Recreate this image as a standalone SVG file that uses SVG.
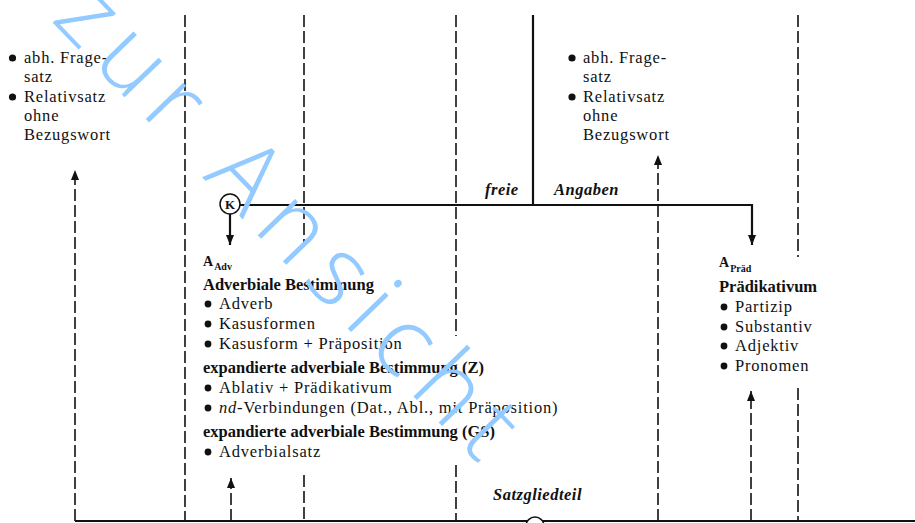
<svg xmlns="http://www.w3.org/2000/svg" width="915" height="523" viewBox="0 0 915 523">
<style>
  .t { font-family: "Liberation Serif", "Times New Roman", serif; font-size: 16.5px; letter-spacing: 0.8px; fill: #111; }
  .b { font-family: "Liberation Serif", "Times New Roman", serif; font-size: 16.5px; font-weight: bold; fill: #111; }
  .bi { font-family: "Liberation Serif", "Times New Roman", serif; font-size: 16.5px; font-weight: bold; font-style: italic; letter-spacing: 0.5px; fill: #111; }
  .a { font-family: "Liberation Serif", "Times New Roman", serif; font-size: 14px; font-weight: bold; fill: #111; }
  .sub { font-size: 10px; }
  .k { font-family: "Liberation Serif", "Times New Roman", serif; font-size: 13px; font-weight: bold; fill: #111; text-anchor: middle; }
  .bul { fill: #111; }
  .dash { fill: none; stroke: #111; stroke-width: 1.6; stroke-dasharray: 12 4; }
  .solid { fill: none; stroke: #111; stroke-width: 2.2; }
  .circ { fill: #fff; stroke: #111; stroke-width: 1.5; }
  .wm { font-family: "Open Sans", "Roboto", "DejaVu Sans", sans-serif; font-weight: 300; font-size: 98px; letter-spacing: 13px; fill: #93caff; }
</style>
<defs>
  <marker id="arr" markerUnits="userSpaceOnUse" markerWidth="10" markerHeight="8" refX="10" refY="4" orient="auto">
    <path d="M0,0 L10,4 L0,8 z" fill="#111"/>
  </marker>
</defs>

<g id="connectors">
  <path class="dash" d="M75,521 V170" marker-end="url(#arr)"/>
  <path class="dash" d="M185,15 V521"/>
  <path class="dash" d="M231,521 V478" marker-end="url(#arr)"/>
  <path class="dash" d="M304,15 V245 M304,475 V521"/>
  <path class="dash" d="M456,15 V336 M456,465 V521"/>
  <path class="solid" d="M533,15 V205"/>
  <path class="dash" d="M658,521 V155" marker-end="url(#arr)"/>
  <path class="dash" d="M751,521 V391" marker-end="url(#arr)"/>
  <path class="dash" d="M798,15 V257 M798,388 V521"/>
  <path class="solid" d="M240,205 H752 V245" marker-end="url(#arr)"/>
  <path class="solid" d="M230,214 V245" marker-end="url(#arr)"/>
  <path class="solid" d="M75,521 H915"/>
</g>

<g id="k-top">
  <circle class="circ" cx="230" cy="204" r="10"/>
  <text class="k" x="230" y="209">K</text>
</g>

<g id="k-bottom">
  <circle class="circ" cx="535" cy="526" r="9"/>
  <text class="k" x="535" y="531">K</text>
</g>

<g id="left-list">
  <circle class="bul" cx="12.5" cy="58" r="3.6"/>
  <text class="t" x="24" y="63">abh. Frage-</text>
  <text class="t" x="24" y="82">satz</text>
  <circle class="bul" cx="12.5" cy="97" r="3.6"/>
  <text class="t" x="24" y="102">Relativsatz</text>
  <text class="t" x="24" y="121">ohne</text>
  <text class="t" x="24" y="140">Bezugswort</text>
</g>

<g id="right-list">
  <circle class="bul" cx="572" cy="58" r="3.6"/>
  <text class="t" x="583" y="63">abh. Frage-</text>
  <text class="t" x="583" y="82">satz</text>
  <circle class="bul" cx="572" cy="97" r="3.6"/>
  <text class="t" x="583" y="102">Relativsatz</text>
  <text class="t" x="583" y="121">ohne</text>
  <text class="t" x="583" y="140">Bezugswort</text>
</g>

<g id="label-freie">
  <text class="bi" x="485" y="195">freie</text>
</g>
<g id="label-angaben">
  <text class="bi" x="554" y="195">Angaben</text>
</g>
<g id="label-satzgliedteil">
  <text class="bi" x="493" y="500">Satzgliedteil</text>
</g>

<g id="adverbiale">
  <text class="a" x="203" y="266">A<tspan class="sub" dx="1" dy="4">Adv</tspan></text>
  <text class="b" x="203" y="290">Adverbiale Bestimmung</text>
  <circle class="bul" cx="208" cy="304" r="3.4"/>
  <text class="t" x="219" y="309">Adverb</text>
  <circle class="bul" cx="208" cy="324" r="3.4"/>
  <text class="t" x="219" y="329">Kasusformen</text>
  <circle class="bul" cx="208" cy="344" r="3.4"/>
  <text class="t" x="219" y="349">Kasusform + Präposition</text>
  <text class="b" x="203" y="373">expandierte adverbiale Bestimmung (Z)</text>
  <circle class="bul" cx="208" cy="388" r="3.4"/>
  <text class="t" x="219" y="393">Ablativ + Prädikativum</text>
  <circle class="bul" cx="208" cy="408" r="3.4"/>
  <text class="t" x="219" y="413"><tspan font-style="italic">nd</tspan>-Verbindungen (Dat., Abl., mit Präposition)</text>
  <text class="b" x="203" y="437">expandierte adverbiale Bestimmung (GS)</text>
  <circle class="bul" cx="208" cy="452" r="3.4"/>
  <text class="t" x="219" y="457">Adverbialsatz</text>
</g>

<g id="praedikativum">
  <text class="a" x="719" y="267">A<tspan class="sub" dx="1" dy="5">Präd</tspan></text>
  <text class="b" x="719" y="292">Prädikativum</text>
  <circle class="bul" cx="724" cy="307" r="3.4"/>
  <text class="t" x="735" y="312">Partizip</text>
  <circle class="bul" cx="724" cy="327" r="3.4"/>
  <text class="t" x="735" y="332">Substantiv</text>
  <circle class="bul" cx="724" cy="346" r="3.4"/>
  <text class="t" x="735" y="351">Adjektiv</text>
  <circle class="bul" cx="724" cy="366" r="3.4"/>
  <text class="t" x="735" y="371">Pronomen</text>
</g>

<g id="watermark">
  <text class="wm" transform="translate(50,20) rotate(46)">zur Ansicht</text>
</g>
</svg>
